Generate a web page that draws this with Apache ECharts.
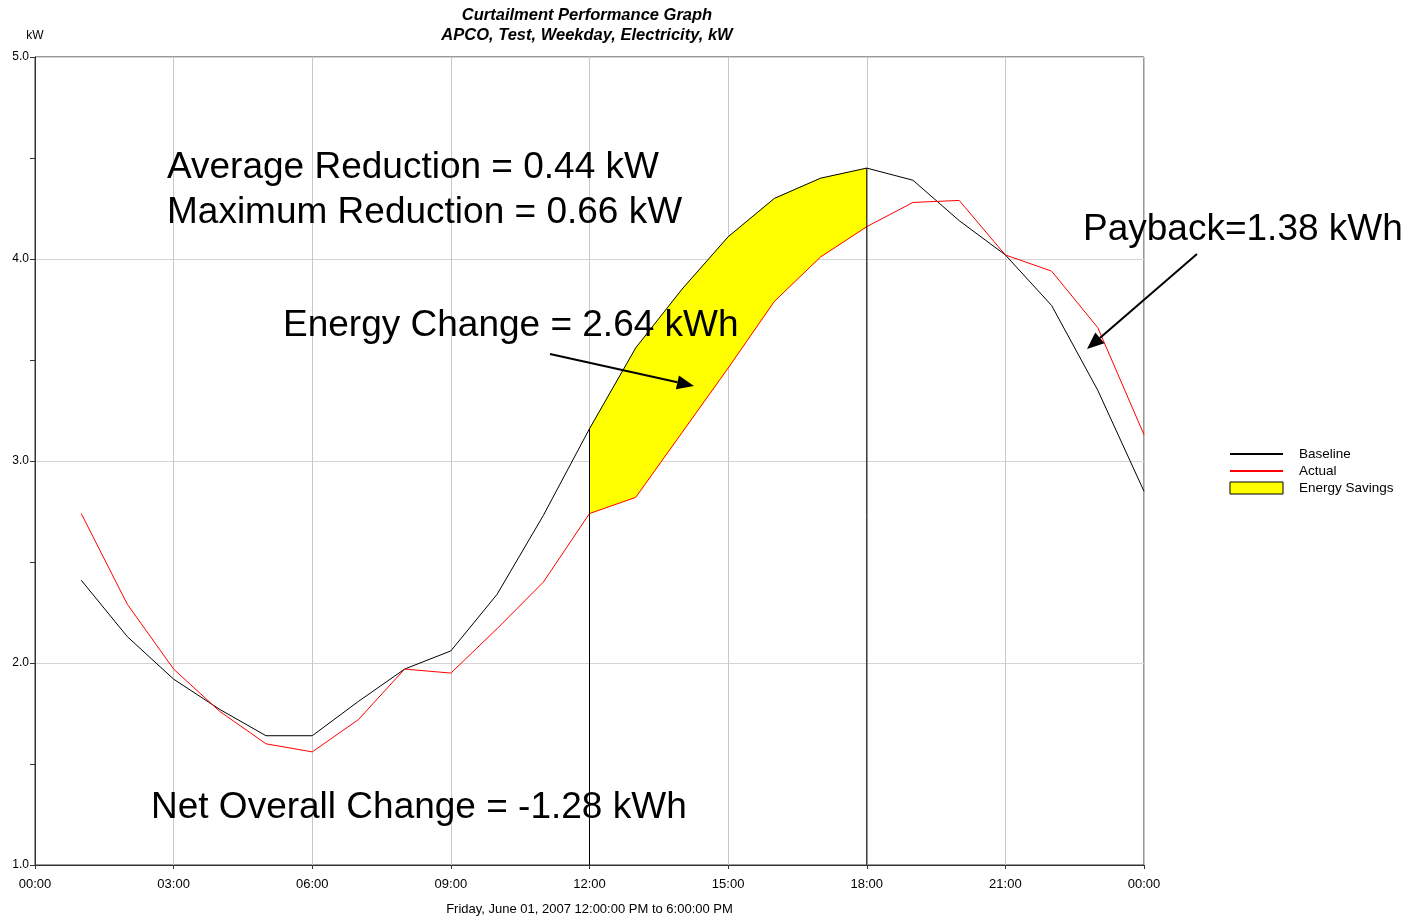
<!DOCTYPE html>
<html>
<head>
<meta charset="utf-8">
<title>Curtailment Performance Graph</title>
<script src="https://cdn.jsdelivr.net/npm/echarts@6/dist/echarts.min.js"></script>
<style>
    html, body { margin: 0; padding: 0; background: #fff; }
    #chart { width: 1410px; height: 918px; }
</style>
</head>
<body>
<div id="chart"></div>
<script>
// hour of day (hour-ending readings)
const hours = [1, 2, 3, 4, 5, 6, 7, 8, 9, 10, 11, 12, 13, 14, 15, 16, 17, 18, 19, 20, 21, 22, 23, 24];
const baseline = [2.41, 2.13, 1.92, 1.77, 1.64, 1.64, 1.81, 1.97, 2.06, 2.34, 2.73, 3.16,
    3.56, 3.85, 4.11, 4.30, 4.40, 4.45, 4.39, 4.19, 4.02, 3.77, 3.35, 2.85];
const actual = [2.74, 2.29, 1.97, 1.76, 1.60, 1.56, 1.72, 1.97, 1.95, 2.17, 2.40, 2.74,
    2.82, 3.14, 3.46, 3.79, 4.01, 4.16, 4.28, 4.29, 4.02, 3.94, 3.66, 3.13];
// curtailment window
const eventStart = 12;
const eventEnd = 18;

const annotations = [
    { text: 'Average Reduction = 0.44 kW', x: 167, y: 165 },
    { text: 'Maximum Reduction = 0.66 kW', x: 167, y: 210 },
    { text: 'Energy Change = 2.64 kWh', x: 283, y: 323 },
    { text: 'Payback=1.38 kWh', x: 1083, y: 227 },
    { text: 'Net Overall Change = -1.28 kWh', x: 151, y: 805 }
];

const FONT = '"Liberation Sans", Arial, sans-serif';

function pad(n) {
    return (n < 10 ? '0' : '') + n;
}

// rows for the savings band: [hour, baseline, actual, nextBaseline, nextActual]
const savingsRows = [];
for (let i = 0; i < hours.length - 1; i++) {
    if (hours[i] >= eventStart && hours[i] < eventEnd) {
        savingsRows.push([hours[i], baseline[i], actual[i], baseline[i + 1], actual[i + 1]]);
    }
}
const startIdx = hours.indexOf(eventStart);
const endIdx = hours.indexOf(eventEnd);

function arrow(x1, y1, x2, y2) {
    const ang = Math.atan2(y2 - y1, x2 - x1);
    const len = 17, half = 7;
    const bx = x2 - len * Math.cos(ang), by = y2 - len * Math.sin(ang);
    const px = -Math.sin(ang) * half, py = Math.cos(ang) * half;
    return [{
        type: 'line',
        shape: { x1: x1, y1: y1, x2: bx, y2: by },
        style: { stroke: '#000', lineWidth: 2 },
        z: 100
    }, {
        type: 'polygon',
        shape: { points: [[x2, y2], [bx + px, by + py], [bx - px, by - py]] },
        style: { fill: '#000' },
        z: 100
    }];
}

const chart = echarts.init(document.getElementById('chart'));

const graphics = annotations.map(function (a) {
    return {
        type: 'text',
        left: a.x,
        top: a.y - 16,
        z: 100,
        style: {
            text: a.text,
            font: '37px ' + FONT,
            fill: '#000'
        }
    };
}).concat(arrow(550, 354, 694, 386), arrow(1197, 254, 1087, 349));

const hiddenSymbol = { color: 'rgba(0,0,0,0)', borderWidth: 0, opacity: 0 };

const options = {
    backgroundColor: '#fff',
    animation: false,
    title: {
        text: 'Curtailment Performance Graph\nAPCO, Test, Weekday, Electricity, kW',
        left: 582,
        textAlign: 'center',
        top: 0,
        textStyle: {
            fontFamily: FONT,
            fontSize: 16.5,
            fontWeight: 'bold',
            fontStyle: 'italic',
            lineHeight: 20,
            color: '#000'
        }
    },
    legend: {
        orient: 'vertical',
        left: 1229,
        top: 447,
        padding: 0,
        itemWidth: 53,
        itemHeight: 12,
        itemGap: 3,
        selectedMode: false,
        textStyle: {
            fontFamily: FONT,
            fontSize: 13.5,
            color: '#000',
            padding: [0, 0, 0, 11]
        },
        data: [
            { name: 'Baseline', itemStyle: hiddenSymbol },
            { name: 'Actual', itemStyle: hiddenSymbol },
            { name: 'Energy Savings', icon: 'rect', itemStyle: { color: '#ffff00', borderColor: '#000', borderWidth: 1 } }
        ]
    },
    grid: {
        left: 35,
        right: 266,
        top: 57,
        bottom: 53,
        outerBoundsMode: 'none',
        show: true,
        borderColor: '#333',
        borderWidth: 1
    },
    xAxis: {
        type: 'value',
        min: 0,
        max: 24,
        interval: 3,
        name: 'Friday, June 01, 2007 12:00:00 PM to 6:00:00 PM',
        nameLocation: 'middle',
        nameGap: 38,
        nameTextStyle: { fontFamily: FONT, fontSize: 13, color: '#000' },
        axisLine: { lineStyle: { color: '#333' } },
        axisTick: { length: 4, lineStyle: { color: '#333' } },
        axisLabel: {
            margin: 13,
            fontFamily: FONT,
            fontSize: 13,
            color: '#000',
            formatter: function (v) { return pad(v % 24) + ':00'; }
        },
        splitLine: { show: true, lineStyle: { color: '#c8c8c8' } }
    },
    yAxis: {
        type: 'value',
        min: 1,
        max: 5,
        interval: 1,
        name: 'kW',
        nameLocation: 'end',
        nameGap: 15,
        nameTextStyle: { fontFamily: FONT, fontSize: 12, color: '#000' },
        axisLine: { show: true, lineStyle: { color: '#333' } },
        axisTick: { show: true, length: 5, lineStyle: { color: '#333' } },
        minorTick: { show: true, splitNumber: 2, length: 5, lineStyle: { color: '#333' } },
        axisLabel: {
            margin: 6,
            fontFamily: FONT,
            fontSize: 12,
            color: '#000',
            formatter: function (v) { return v.toFixed(1); }
        },
        splitLine: { show: true, lineStyle: { color: '#d4d4d4' } }
    },
    graphic: graphics,
    series: [
        {
            name: 'Energy Savings',
            type: 'custom',
            data: savingsRows,
            encode: { x: 0, y: [1, 2] },
            z: 1,
            renderItem: function (params, api) {
                const h = api.value(0);
                const pts = [
                    api.coord([h, api.value(1)]),
                    api.coord([h + 1, api.value(3)]),
                    api.coord([h + 1, api.value(4)]),
                    api.coord([h, api.value(2)])
                ];
                return {
                    type: 'polygon',
                    shape: { points: pts },
                    style: { fill: '#ffff00', stroke: '#ffff00', lineWidth: 0.6 }
                };
            }
        },
        {
            name: 'Baseline',
            type: 'line',
            data: hours.map(function (h, i) { return [h, baseline[i]]; }),
            symbol: 'none',
            z: 3,
            lineStyle: { color: '#000', width: 1 },
            itemStyle: { color: '#000' }
        },
        {
            name: 'Actual',
            type: 'line',
            data: hours.map(function (h, i) { return [h, actual[i]]; }),
            symbol: 'none',
            z: 4,
            lineStyle: { color: '#ff0000', width: 1 },
            itemStyle: { color: '#ff0000' }
        },
        {
            name: 'start',
            type: 'line',
            data: [[eventStart, 1], [eventStart, baseline[startIdx]]],
            symbol: 'none',
            z: 5,
            lineStyle: { color: '#000', width: 1 }
        },
        {
            name: 'end',
            type: 'line',
            data: [[eventEnd, 1], [eventEnd, baseline[endIdx]]],
            symbol: 'none',
            z: 5,
            lineStyle: { color: '#000', width: 1 }
        }
    ]
};
chart.setOption(options);
</script>
</body>
</html>
